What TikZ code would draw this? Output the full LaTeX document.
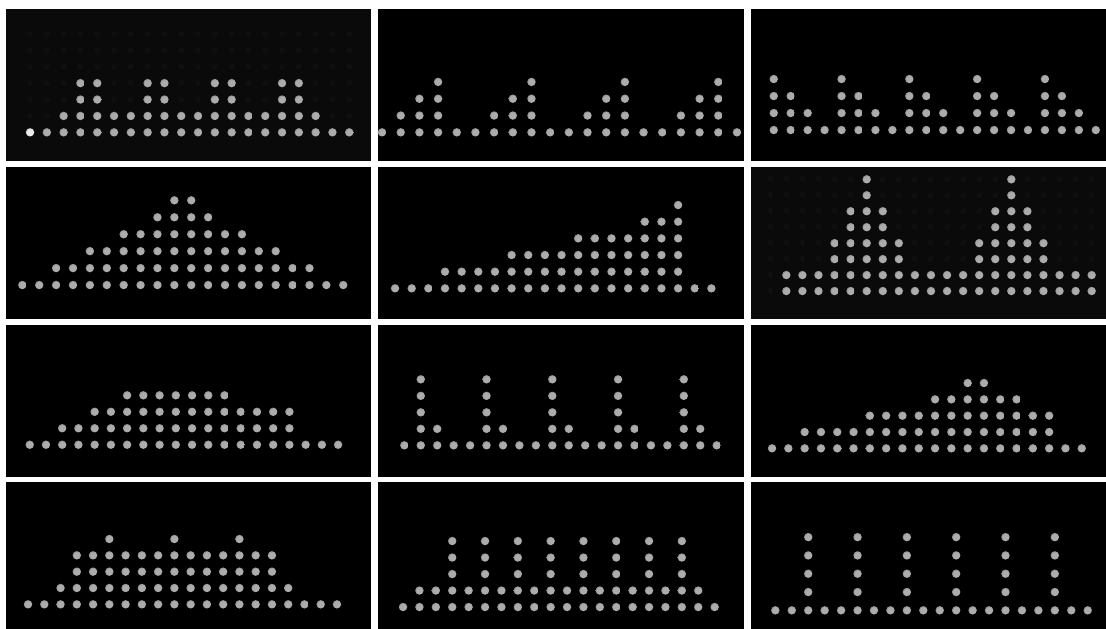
\documentclass[tikz,border=0pt]{standalone}
\usepackage{xcolor}
\usepackage{tikz}
\definecolor{spotcore}{RGB}{172, 172, 172}
\definecolor{spotbright}{RGB}{235, 235, 235}
\definecolor{hazebg}{RGB}{10, 10, 10}
\definecolor{ghostgray}{RGB}{15, 15, 15}
\pgfdeclareradialshading{spotglow}{\pgfpoint{0bp}{0bp}}{color(0bp)=(spotcore); color(20bp)=(spotcore); color(50bp)=(black)}
\pgfdeclareradialshading{spotglowlit}{\pgfpoint{0bp}{0bp}}{color(0bp)=(spotbright); color(20bp)=(spotbright); color(50bp)=(black)}
\tikzset{
    spot/.style={circle, inner sep=0pt, minimum size=8.5pt, shading=spotglow},
    spotlit/.style={spot, shading=spotglowlit},
    ghost/.style={circle, inner sep=0pt, minimum size=6pt, fill=ghostgray},
    panel/.style={fill=black},
    hazepanel/.style={fill=hazebg}
}
% bottom row of 20 spots in the current panel
\newcommand{\spotbase}[2][0]{%
    \foreach \c in {#1,...,19} {
        \node[spot] (#2-0-\c) at (\c, 0) {};
    }
}

\begin{document}
\begin{tikzpicture}[x=1pt, y=-1pt]
    \fill[white] (0,0) rectangle (1106,629);
    \useasboundingbox (0,0) rectangle (1106,629);

    % Panels
    \fill[hazepanel] (6,8.5) rectangle (371,161);
    \fill[panel] (378,8.5) rectangle (744,161);
    \fill[panel] (751,8.5) rectangle (1106,161);
    \fill[panel] (6,167) rectangle (371,319);
    \fill[panel] (378,167) rectangle (744,319);
    \fill[hazepanel] (751,167) rectangle (1106,319);
    \fill[panel] (6,325) rectangle (371,477);
    \fill[panel] (378,325) rectangle (744,477);
    \fill[panel] (751,325) rectangle (1106,477);
    \fill[panel] (6,482) rectangle (371,629);
    \fill[panel] (378,482) rectangle (744,629);
    \fill[panel] (751,482) rectangle (1106,629);

    % Row 1
    \begin{scope}[shift={(30pt,-132.3pt)}, x=16.8pt, y=16.4pt]
        \foreach \r in {0,...,6} {
            \foreach \c in {0,...,19} {
                \node[ghost] (g1-\r-\c) at (\c, \r) {};
            }
        }
        \node[spotlit] (p1-0-0) at (0, 0) {};
        \spotbase[1]{p1}
        \foreach \c in {2,...,17} {
            \node[spot] (p1-1-\c) at (\c, 1) {};
        }
        \foreach \r in {2,3} {
            \foreach \c in {3,4,7,8,11,12,15,16} {
                \node[spot] (p1-\r-\c) at (\c, \r) {};
            }
        }
    \end{scope}

    \begin{scope}[shift={(382pt,-132.3pt)}, x=18.68pt, y=16.8pt]
        \spotbase{p2}
        \foreach \k in {0,5,10,15} {
            \foreach \r in {1,2,3} {
                \foreach \j in {\r,...,3} {
                    \pgfmathtruncatemacro{\c}{\k + \j}
                    \node[spot] (p2-\r-\c) at (\c, \r) {};
                }
            }
        }
    \end{scope}

    \begin{scope}[shift={(773.7pt,-130pt)}, x=16.95pt, y=17pt]
        \spotbase{p3}
        \foreach \k in {0,4,...,16} {
            \foreach \r in {1,2,3} {
                \pgfmathtruncatemacro{\m}{3 - \r}
                \foreach \j in {0,...,\m} {
                    \pgfmathtruncatemacro{\c}{\k + \j}
                    \node[spot] (p3-\r-\c) at (\c, \r) {};
                }
            }
        }
    \end{scope}

    % Row 2
    \begin{scope}[shift={(22.3pt,-285pt)}, x=16.89pt, y=16.94pt]
        \spotbase{p4}
        \foreach \r in {1,...,4} {
            \pgfmathtruncatemacro{\a}{2*\r}
            \pgfmathtruncatemacro{\b}{19 - 2*\r}
            \foreach \c in {\a,...,\b} {
                \node[spot] (p4-\r-\c) at (\c, \r) {};
            }
        }
        \foreach \c in {9,10} {
            \node[spot] (p4-5-\c) at (\c, 5) {};
        }
    \end{scope}

    \begin{scope}[shift={(395pt,-288.3pt)}, x=16.65pt, y=16.66pt]
        \spotbase{p5}
        \foreach \r/\a in {1/3, 2/7, 3/11, 4/15, 5/17} {
            \foreach \c in {\a,...,17} {
                \node[spot] (p5-\r-\c) at (\c, \r) {};
            }
        }
    \end{scope}

    \begin{scope}[shift={(786.3pt,-291pt)}, x=16.07pt, y=15.96pt]
        \foreach \r in {0,...,7} {
            \foreach \c in {-1,...,19} {
                \node[ghost] (g6-\r-\c) at (\c, \r) {};
            }
        }
        \spotbase{p6}
        \foreach \c in {0,...,19} {
            \node[spot] (p6-1-\c) at (\c, 1) {};
        }
        \foreach \r/\w in {2/2, 3/2, 4/1, 5/1, 6/0, 7/0} {
            \foreach \m in {5,14} {
                \pgfmathtruncatemacro{\a}{\m - \w}
                \pgfmathtruncatemacro{\b}{\m + \w}
                \foreach \c in {\a,...,\b} {
                    \node[spot] (p6-\r-\c) at (\c, \r) {};
                }
            }
        }
    \end{scope}

    % Row 3
    \begin{scope}[shift={(29.7pt,-444.7pt)}, x=16.23pt, y=16.47pt]
        \spotbase{p7}
        \foreach \r/\a/\b in {1/2/16, 2/4/16, 3/6/12} {
            \foreach \c in {\a,...,\b} {
                \node[spot] (p7-\r-\c) at (\c, \r) {};
            }
        }
    \end{scope}

    \begin{scope}[shift={(404.3pt,-445.3pt)}, x=16.44pt, y=16.5pt]
        \spotbase{p8}
        \foreach \k in {1,5,...,17} {
            \pgfmathtruncatemacro{\n}{\k + 1}
            \node[spot] (p8-1-\k) at (\k, 1) {};
            \node[spot] (p8-1-\n) at (\n, 1) {};
            \foreach \r in {2,3,4} {
                \node[spot] (p8-\r-\k) at (\k, \r) {};
            }
        }
    \end{scope}

    \begin{scope}[shift={(772pt,-448.3pt)}, x=16.3pt, y=16.33pt]
        \spotbase{p9}
        \foreach \r/\a/\b in {1/2/17, 2/6/17, 3/10/15, 4/12/13} {
            \foreach \c in {\a,...,\b} {
                \node[spot] (p9-\r-\c) at (\c, \r) {};
            }
        }
    \end{scope}

    % Row 4
    \begin{scope}[shift={(28pt,-604.3pt)}, x=16.26pt, y=16.33pt]
        \spotbase{p10}
        \foreach \r/\a/\b in {1/2/16, 2/3/15, 3/3/15} {
            \foreach \c in {\a,...,\b} {
                \node[spot] (p10-\r-\c) at (\c, \r) {};
            }
        }
        \foreach \c in {5,9,13} {
            \node[spot] (p10-4-\c) at (\c, 4) {};
        }
    \end{scope}

    \begin{scope}[shift={(403pt,-607pt)}, x=16.4pt, y=16.5pt]
        \spotbase{p11}
        \foreach \c in {1,...,18} {
            \node[spot] (p11-1-\c) at (\c, 1) {};
        }
        \foreach \r in {2,3,4} {
            \foreach \c in {3,5,...,17} {
                \node[spot] (p11-\r-\c) at (\c, \r) {};
            }
        }
    \end{scope}

    \begin{scope}[shift={(775.3pt,-610.3pt)}, x=16.44pt, y=18.3pt]
        \spotbase{p12}
        \foreach \r in {1,...,4} {
            \foreach \c in {2,5,...,17} {
                \node[spot] (p12-\r-\c) at (\c, \r) {};
            }
        }
    \end{scope}
\end{tikzpicture}
\end{document}
